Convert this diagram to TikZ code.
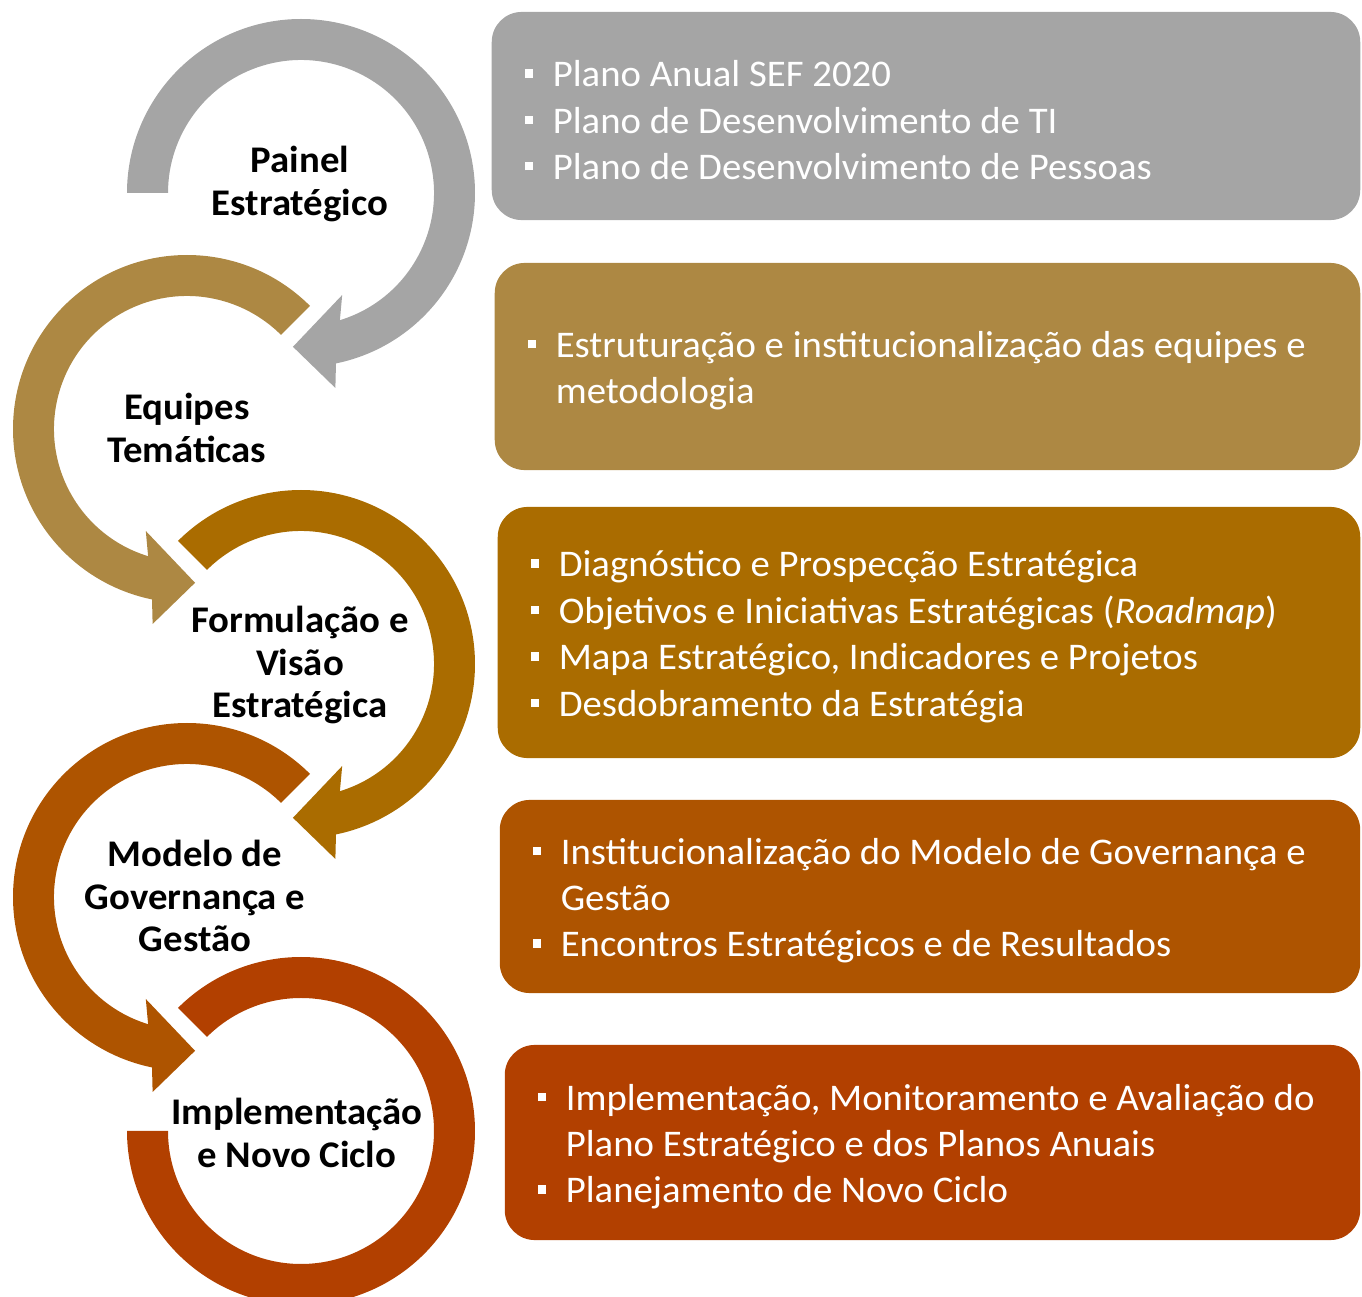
\documentclass[tikz,border=0pt]{standalone}
\usepackage{fontspec}
\setmainfont{Carlito}[FakeStretch=1.03]
\usetikzlibrary{positioning}

\definecolor{cinza}{HTML}{A5A5A5}
\definecolor{ouro}{HTML}{AD8843}
\definecolor{ocre}{HTML}{AA6C00}
\definecolor{ferrugem}{HTML}{AE5400}
\definecolor{telha}{HTML}{B24000}

\newenvironment{pontos}{%
  \begin{list}{\rule[0.09cm]{0.085cm}{0.085cm}}{%
    \setlength{\leftmargin}{0.28cm}\setlength{\labelwidth}{0.085cm}%
    \setlength{\labelsep}{0.195cm}\setlength{\itemsep}{0pt}%
    \setlength{\topsep}{0pt}\setlength{\parsep}{0pt}\setlength{\partopsep}{0pt}}}%
  {\end{list}\vspace{0.12cm}}

\tikzset{
  caixa/.style={rounded corners=0.3cm, text=white, align=flush left, inner xsep=0.33cm,
    inner ysep=0pt, font=\fontsize{10.7}{13.2}\selectfont},
  etapa/.style={align=flush center, font=\bfseries\fontsize{10.7}{12.2}\selectfont},
}

\begin{document}
\begin{tikzpicture}[x=0.01cm, y=0.01cm]
    \useasboundingbox (0,0) rectangle (1362,-1297);
    \def \rin {133}
    \def \rout {174}

    % setas no sentido horario
    \foreach \cx/\cy/\ini/\cor in {301/-193/180/cinza, 301/-664/135/ocre} {
        \begin{scope}[shift={(\cx,\cy)}]
            \fill[\cor] (\ini:\rout) arc[start angle=\ini, end angle=-78.4, radius=\rout]
                -- (-80:198) -- (-93:154) -- (-68:110) -- (-73:\rin)
                arc[start angle=-73, end angle=\ini, radius=\rin] -- cycle;
        \end{scope}
    }

    % setas no sentido anti-horario
    \foreach \cx/\cy/\cor in {187/-429/ouro, 187/-897/ferrugem} {
        \begin{scope}[shift={(\cx,\cy)}]
            \fill[\cor] (45:\rout) arc[start angle=45, end angle=258.4, radius=\rout]
                -- (260:198) -- (273:154) -- (248:110) -- (253:\rin)
                arc[start angle=253, end angle=45, radius=\rin] -- cycle;
        \end{scope}
    }

    % ultimo anel, sem ponta
    \begin{scope}[shift={(301,-1131)}]
        \fill[telha] (135:\rout) arc[start angle=135, end angle=-180, radius=\rout]
            -- (180:\rin) arc[start angle=-180, end angle=135, radius=\rin] -- cycle;
    \end{scope}

    \node[etapa] (painel) at (300,-184) {Painel\\Estratégico};
    \node[etapa] (equipes) at (187,-428) {Equipes\\Temáticas};
    \node[etapa] (formulacao) at (300,-665) {Formulação e\\Visão\\Estratégica};
    \node[etapa] (modelo) at (195,-896) {Modelo de\\Governança e\\Gestão};
    \node[etapa] (implementacao) at (297,-1133) {Implementação\\e Novo Ciclo};

    % caixas de texto
    \node[caixa, fill=cinza, text width=8.02cm, minimum height=2.08cm] (caixa1) at (926,-116) {%
        \begin{pontos}
            \item Plano Anual SEF 2020
            \item Plano de Desenvolvimento de TI
            \item Plano de Desenvolvimento de Pessoas
        \end{pontos}};
    \node[caixa, fill=ouro, text width=7.99cm, minimum height=2.07cm] (caixa2) at (927.5,-366.5) {%
        \begin{pontos}
            \item Estruturação e institucionalização das equipes e\\metodologia
        \end{pontos}};
    \node[caixa, fill=ocre, text width=7.96cm, minimum height=2.51cm] (caixa3) at (929,-632.5) {%
        \begin{pontos}
            \item Diagnóstico e Prospecção Estratégica
            \item Objetivos e Iniciativas Estratégicas (\textit{Roadmap})
            \item Mapa Estratégico, Indicadores e Projetos
            \item Desdobramento da Estratégia
        \end{pontos}};
    \node[caixa, fill=ferrugem, text width=7.94cm, minimum height=1.93cm] (caixa4) at (930,-896.5) {%
        \begin{pontos}
            \item Institucionalização do Modelo de Governança e\\Gestão
            \item Encontros Estratégicos e de Resultados
        \end{pontos}};
    \node[caixa, fill=telha, text width=7.89cm, minimum height=1.95cm] (caixa5) at (932.5,-1142.5) {%
        \begin{pontos}
            \item Implementação, Monitoramento e Avaliação do\\Plano Estratégico e dos Planos Anuais
            \item Planejamento de Novo Ciclo
        \end{pontos}};
\end{tikzpicture}
\end{document}
